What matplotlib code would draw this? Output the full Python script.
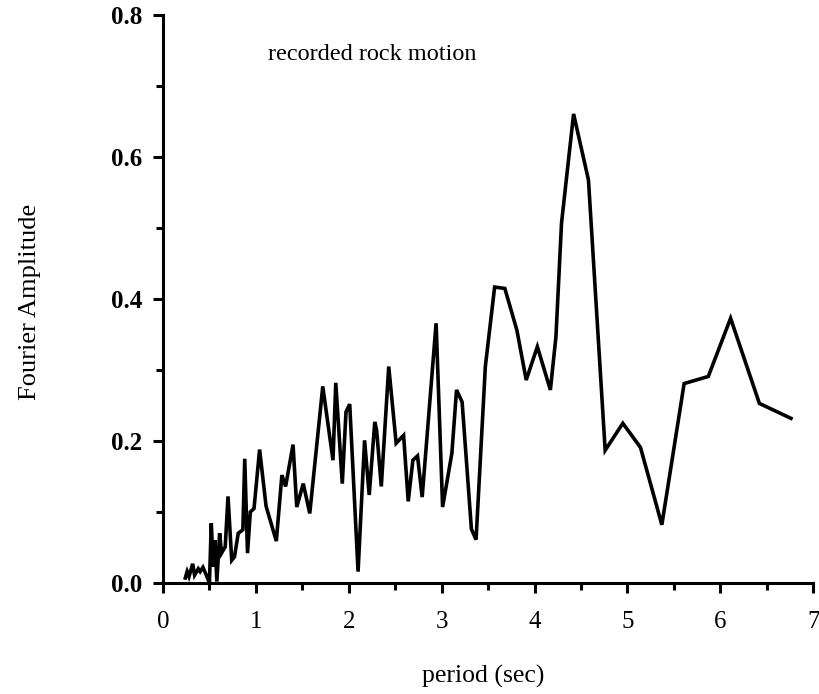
"""Fourier amplitude spectrum of the recorded rock motion, plotted against period."""
import matplotlib
matplotlib.use("Agg")
import matplotlib.pyplot as plt
from matplotlib.ticker import MultipleLocator

plt.rcParams.update({
    "font.family": "serif",
    "font.serif": ["Liberation Serif", "DejaVu Serif"],
    "axes.spines.top": False,
    "axes.spines.right": False,
    "axes.linewidth": 2.2,
    "xtick.major.width": 2.2,
    "ytick.major.width": 2.2,
    "xtick.minor.width": 2.2,
    "ytick.minor.width": 2.2,
})

# period (sec) and Fourier amplitude
period = [0.24, 0.26, 0.28, 0.32, 0.34, 0.38, 0.40, 0.43, 0.46, 0.50,
          0.52, 0.54, 0.56, 0.58, 0.61, 0.63, 0.67, 0.70, 0.74, 0.77,
          0.81, 0.86, 0.88, 0.91, 0.94, 0.98, 1.04, 1.11, 1.22, 1.28,
          1.32, 1.40, 1.44, 1.51, 1.58, 1.72, 1.83, 1.86, 1.93, 1.97,
          2.01, 2.10, 2.17, 2.22, 2.28, 2.30, 2.35, 2.43, 2.51, 2.59,
          2.64, 2.69, 2.74, 2.79, 2.94, 3.01, 3.11, 3.16, 3.22, 3.32,
          3.37, 3.47, 3.57, 3.68, 3.81, 3.91, 4.03, 4.17, 4.23, 4.29,
          4.42, 4.58, 4.76, 4.95, 5.14, 5.37, 5.61, 5.87, 6.11, 6.42,
          6.76]
amplitude = [0.007, 0.016, 0.009, 0.027, 0.011, 0.020, 0.016, 0.022, 0.013, 0.000,
             0.084, 0.023, 0.060, 0.002, 0.070, 0.042, 0.051, 0.122, 0.032, 0.037,
             0.070, 0.075, 0.175, 0.042, 0.100, 0.105, 0.188, 0.108, 0.059, 0.152,
             0.136, 0.195, 0.107, 0.140, 0.098, 0.277, 0.173, 0.282, 0.140, 0.241,
             0.252, 0.016, 0.201, 0.124, 0.227, 0.215, 0.136, 0.305, 0.197, 0.208,
             0.115, 0.173, 0.179, 0.121, 0.366, 0.107, 0.183, 0.272, 0.255, 0.076,
             0.061, 0.305, 0.417, 0.415, 0.356, 0.286, 0.333, 0.272, 0.347, 0.507,
             0.661, 0.568, 0.187, 0.225, 0.191, 0.082, 0.281, 0.291, 0.373, 0.253,
             0.232]

x_ticks = [0, 1, 2, 3, 4, 5, 6, 7]
y_ticks = [0.0, 0.2, 0.4, 0.6, 0.8]

fig = plt.figure(figsize=(8.19, 6.94), dpi=100)
ax = fig.add_axes([0.199, 0.16, 0.794, 0.818])

ax.plot(period, amplitude, color="black", lw=2.6, solid_joinstyle="miter")

ax.set_xlim(0, 7)
ax.set_ylim(0, 0.8)
ax.set_xticks(x_ticks)
ax.set_yticks(y_ticks)
ax.set_xticklabels([str(t) for t in x_ticks])
ax.set_yticklabels([f"{t:.1f}" for t in y_ticks], fontweight="bold")
ax.xaxis.set_minor_locator(MultipleLocator(0.5))
ax.yaxis.set_minor_locator(MultipleLocator(0.1))
ax.tick_params(which="major", direction="out", length=7, labelsize=18)
ax.tick_params(which="minor", direction="out", length=5)
ax.tick_params(axis="x", which="major", pad=13)
ax.tick_params(axis="y", which="major", pad=8)

# axis titles placed in figure coordinates, as in the scanned original
fig.text(0.59, 0.025, "period (sec)", ha="center", va="center", fontsize=18.5)
fig.text(0.037, 0.565, "Fourier Amplitude", ha="center", va="center",
         rotation=90, fontsize=19)
ax.text(2.25, 0.745, "recorded rock motion", ha="center", va="center", fontsize=17.5)

fig.savefig("out.png", dpi=100, facecolor="white")
